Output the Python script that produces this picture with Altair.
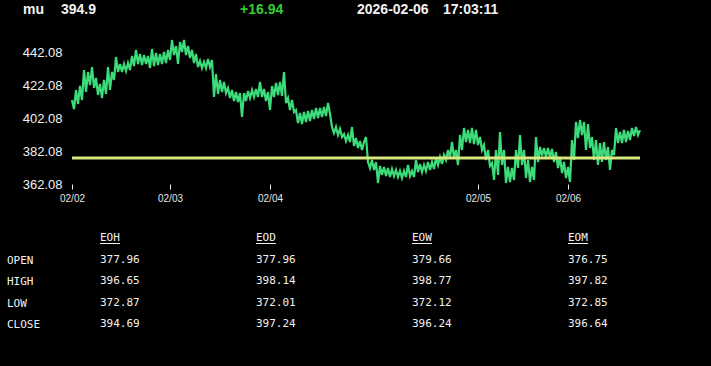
import altair as alt
import pandas as pd

# ---------------- data ----------------
symbol = "mu"
last_price = "394.9"
change = "+16.94"
date_str = "2026-02-06"
time_str = "17:03:11"

prev_close = 377.96

price = [
    413.22, 407.70, 419.31, 410.79, 421.75, 413.22, 431.49, 418.09, 430.27, 422.35,
    433.31, 420.53, 426.62, 416.27, 422.96, 414.44, 425.40, 416.87, 433.31, 419.31,
    430.27, 425.40, 439.40, 430.27, 435.14, 430.27, 435.14, 430.90, 435.75, 431.49,
    440.01, 433.92, 443.66, 435.14, 441.23, 434.53, 440.62, 435.14, 440.01, 432.70,
    444.27, 433.92, 441.84, 434.53, 441.23, 435.14, 442.44, 435.75, 443.66, 437.57,
    449.75, 440.62, 446.10, 435.14, 448.53, 442.44, 449.75, 440.62, 446.10, 438.79,
    443.66, 435.75, 441.23, 433.31, 436.96, 432.70, 436.36, 432.70, 438.18, 433.31,
    437.57, 415.05, 429.05, 416.87, 425.40, 418.09, 424.18, 417.48, 420.53, 414.44,
    419.31, 412.61, 418.09, 412.00, 417.48, 402.87, 417.48, 412.61, 418.70, 414.44,
    419.31, 415.05, 419.92, 415.05, 424.18, 415.05, 419.92, 412.61, 418.09, 407.13,
    421.75, 415.05, 423.57, 416.27, 424.18, 415.66, 430.27, 411.40, 414.44, 407.13,
    413.22, 405.92, 407.13, 399.22, 405.31, 398.61, 405.92, 399.83, 406.53, 400.43,
    407.13, 401.65, 408.35, 402.26, 408.35, 402.87, 408.96, 403.48, 411.40, 404.70,
    396.78, 393.13, 396.78, 391.91, 395.57, 390.70, 392.52, 388.26, 391.91, 387.65,
    396.78, 385.22, 390.09, 384.00, 388.26, 382.78, 387.65, 390.70, 375.47, 371.82,
    376.69, 370.60, 375.47, 362.69, 373.04, 367.56, 372.43, 366.95, 371.82, 366.34,
    371.21, 366.95, 370.60, 366.34, 370.00, 365.73, 370.00, 366.34, 373.65, 366.95,
    370.00, 366.34, 376.69, 369.39, 374.26, 369.39, 373.65, 370.00, 375.47, 370.60,
    375.47, 371.21, 377.91, 373.65, 378.52, 374.26, 379.74, 376.69, 382.78, 377.91,
    387.65, 377.91, 382.78, 373.65, 391.91, 382.78, 396.17, 387.65, 394.96, 387.04,
    396.17, 386.43, 394.96, 385.82, 390.70, 382.78, 385.82, 376.69, 382.78, 373.04,
    374.86, 364.52, 382.78, 367.56, 393.74, 373.65, 382.78, 362.69, 372.43, 363.30,
    371.82, 364.52, 382.78, 371.82, 391.91, 373.65, 382.78, 365.73, 376.69, 363.30,
    372.43, 364.52, 390.70, 375.47, 384.61, 379.13, 384.00, 378.52, 384.00, 377.91,
    383.39, 375.47, 381.56, 371.82, 378.52, 368.78, 375.47, 365.73, 372.43, 363.30,
    388.87, 376.69, 399.83, 390.09, 401.04, 391.91, 399.83, 382.78, 398.61, 384.00,
    390.70, 376.69, 388.87, 373.65, 387.04, 375.47, 387.65, 376.69, 384.61, 370.60,
    382.78, 379.74, 396.17, 387.04, 393.74, 387.04, 394.96, 387.65, 394.35, 388.87,
    396.17, 391.30, 396.78, 391.91, 394.90,
]

day_ticks = [0, 49, 99, 203, 248]
day_labels = ["02/02", "02/03", "02/04", "02/05", "02/06"]
y_ticks = [362.08, 382.08, 402.08, 422.08, 442.08]
y_domain = [362.08, 449.75]

table_cols = ["EOH", "EOD", "EOW", "EOM"]
table_rows = ["OPEN", "HIGH", "LOW", "CLOSE"]
open_vals = [377.96, 377.96, 379.66, 376.75]
high_vals = [396.65, 398.14, 398.77, 397.82]
low_vals = [372.87, 372.01, 372.12, 372.85]
close_vals = [394.69, 397.24, 396.24, 396.64]

# ---------------- styles ----------------
GREEN = "#3ddc7a"
YELLOW = "#d8e87e"
UP = "#33cc33"
WHITE = "#f2f2f2"
SANS = "Liberation Sans"
MONO = "DejaVu Sans Mono"

line_df = pd.DataFrame({"i": list(range(len(price))), "p": price})

label_expr = " : ".join(
    f"datum.value == {t} ? '{l}'" for t, l in zip(day_ticks, day_labels)
) + " : ''"

y_scale = alt.Scale(domain=y_domain, nice=False, zero=False)
y_axis = alt.Axis(
    values=y_ticks, format=".2f", title=None, grid=False, domain=False,
    ticks=False, tickSize=0, labelPadding=10, labelFontSize=13,
    labelColor=WHITE, labelFont=SANS, labelFlush=False, labelOverlap=False,
)

line = alt.Chart(line_df).mark_line(color=GREEN, strokeWidth=2.2).encode(
    x=alt.X(
        "i:Q",
        scale=alt.Scale(domain=[0, len(price) - 1], nice=False, zero=False),
        axis=alt.Axis(
            values=day_ticks, labelExpr=label_expr, title=None, grid=False,
            domain=False, ticks=True, tickSize=5, tickColor="#e8e8e8",
            tickWidth=1, labelFontSize=10, labelColor="#e6e6e6", labelFont=SANS,
            labelPadding=4, labelFlush=False, labelOverlap=False,
        ),
    ),
    y=alt.Y("p:Q", scale=y_scale, axis=y_axis),
)

rule = alt.Chart(pd.DataFrame({"p": [prev_close]})).mark_rule(
    color=YELLOW, strokeWidth=3
).encode(y=alt.Y("p:Q", scale=y_scale, axis=y_axis))

price_layer = alt.layer(line, rule)

# ---------------- table ----------------
rows_vals = [open_vals, high_vals, low_vals, close_vals]
tbl_df = pd.DataFrame(
    [
        {"row": r, "col": c, "val": v}
        for r, vals in zip(table_rows, rows_vals)
        for c, v in zip(table_cols, vals)
    ]
)
x_tbl = alt.Scale(type="point", domain=table_cols, range=[28, 496], padding=0)
y_tbl = alt.Scale(type="point", domain=["hdr"] + table_rows, range=[198, 284], padding=0)

vals_text = alt.Chart(tbl_df).mark_text(
    align="left", baseline="middle", font=MONO, fontSize=11, color=WHITE
).encode(
    x=alt.X("col:N", scale=x_tbl, axis=None),
    y=alt.Y("row:N", scale=y_tbl, axis=None),
    text=alt.Text("val:Q", format=".2f"),
)

hdr_df = pd.DataFrame({"col": table_cols, "row": ["hdr"] * len(table_cols)})
hdr_text = alt.Chart(hdr_df).mark_text(
    align="left", baseline="middle", font=MONO, fontSize=11, color=WHITE
).encode(
    x=alt.X("col:N", scale=x_tbl, axis=None),
    y=alt.Y("row:N", scale=y_tbl, axis=None),
    text="col:N",
)
underline = alt.Chart(hdr_df).mark_tick(
    orient="horizontal", size=20, thickness=1, xOffset=10, yOffset=5.5,
    color=WHITE, opacity=1,
).encode(
    x=alt.X("col:N", scale=x_tbl, axis=None),
    y=alt.Y("row:N", scale=y_tbl, axis=None),
)

row_labels = alt.Chart(pd.DataFrame({"row": table_rows})).mark_text(
    align="left", baseline="middle", font=MONO, fontSize=11, color=WHITE, dy=1
).encode(
    x=alt.value(-65),
    y=alt.Y("row:N", scale=y_tbl, axis=None),
    text="row:N",
)

table_layer = alt.layer(vals_text, hdr_text, underline, row_labels)

# ---------------- header ----------------
header_items = [
    (symbol, -49, WHITE),
    (last_price, -11, WHITE),
    (change, 168, UP),
    (date_str, 285, WHITE),
    (time_str, 371, WHITE),
]
header_layers = [
    alt.Chart(pd.DataFrame({"t": [txt]})).mark_text(
        align="left", baseline="alphabetic", font=SANS, fontSize=14,
        fontWeight="bold", color=col,
    ).encode(x=alt.value(xo), y=alt.value(-26), text="t:N")
    for txt, xo, col in header_items
]

chart = (
    alt.layer(price_layer, table_layer, *header_layers)
    .resolve_scale(x="independent", y="independent")
    .properties(
        width=568,
        height=144,
        background="black",
        padding={"left": 72, "top": 40, "right": 71, "bottom": 182},
        autosize=alt.AutoSizeParams(type="none"),
    )
    .configure_view(stroke=None)
)

chart.save("out.html", embed_options={"renderer": "svg", "actions": False})
